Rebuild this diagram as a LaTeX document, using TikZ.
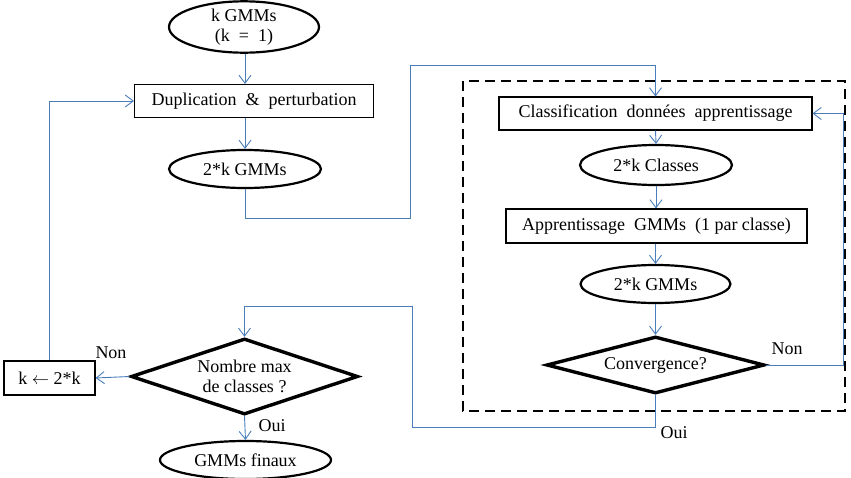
\documentclass[tikz,border=0pt]{standalone}
\usepackage{fontspec}
\setmainfont{Liberation Serif}
\usetikzlibrary{shapes.geometric,arrows.meta,calc}
\definecolor{lnblue}{HTML}{4A7EBB}
\begin{document}
\begin{tikzpicture}[x=1pt,y=-1pt,
  every node/.style={font=\fontsize{18}{20}\selectfont, inner sep=0pt},
  ell/.style={ellipse, draw, line width=2.2pt, align=center},
  box/.style={rectangle, draw, line width=1.1pt},
  dia/.style={diamond, draw, line width=3.4pt},
  txt/.style={align=center},
  arr/.style={draw=lnblue, line width=0.9pt, -{Straight Barb[length=8pt,width=12pt,line width=0.9pt]}},
  lbl/.style={font=\fontsize{18}{20}\selectfont}
]
\useasboundingbox (0,0) rectangle (851,477);
% dashed frame
\draw[line width=2.6pt, dash pattern=on 10pt off 6pt] (463,81) rectangle (845,411);
% nodes
\node[ell, minimum width=150pt, minimum height=45pt] (n1) at (244,27) {k GMMs\\(k \ = \ 1)};
\node[box, minimum width=239pt, minimum height=33pt] (dup) at (254,101) {Duplication \ \& \ perturbation};
\node[ell, minimum width=152pt, minimum height=38pt] (g2) at (245,169) {2*k GMMs};
\node[box, minimum width=313pt, minimum height=33pt] (cls) at (655.5,113.5) {Classification \ données \ apprentissage};
\node[ell, minimum width=152pt, minimum height=40pt] (cl2) at (656,165) {2*k Classes};
\node[box, minimum width=301pt, minimum height=34pt] (app) at (656.5,226) {Apprentissage \ GMMs \ (1 par classe)};
\node[ell, minimum width=150pt, minimum height=38pt] (g3) at (655.5,284) {2*k GMMs};
\node[dia, minimum width=218pt, minimum height=57pt] (conv) at (655.5,365) {};
\node[txt] (convt) at (conv.center) {Convergence?};
\node[dia, minimum width=227pt, minimum height=76pt] (nmax) at (244.5,376.5) {};
\node[txt] (nmaxt) at (nmax.center) {Nombre max\\de classes ?};
\node[box, minimum width=91pt, minimum height=34pt] (kbox) at (49.5,378) {k $\leftarrow$ 2*k};
\node[ell, minimum width=171pt, minimum height=38pt] (fin) at (245.5,460) {GMMs finaux};
% helper coordinates
\coordinate (c1) at (410,218);
\coordinate (c2) at (410,65);
\coordinate (c3) at (843,366);
\coordinate (c4) at (412,427);
\coordinate (c5) at (412,306);
% connectors
\draw[arr] (n1.south -| g2.north) -- (dup.north -| g2.north);
\draw[arr] (dup.south -| g2.north) -- (g2.north);
\draw[arr] (g2.south) |- (c1) |- (c2) -| (cls.north);
\draw[arr] (cls.south) -- (cl2.north);
\draw[arr] (cl2.south) -- (app.north -| cl2.south);
\draw[arr] (app.south -| g3.north) -- (g3.north);
\draw[arr] (g3.south) -- (conv.north);
\draw[arr] (conv.east) -| (c3) |- (cls.east);
\draw[arr] (conv.south) |- (c4) |- (c5) -| (nmax.north);
\draw[arr] (nmax.west) -- (kbox.east);
\draw[arr] (kbox.north) |- (dup.west);
\draw[arr] (nmax.south) -- (fin.north);
% labels
\node[lbl] (lnon1) at (787,349) {Non};
\node[lbl] (loui1) at (674,433) {Oui};
\node[lbl] (lnon2) at (111,353) {Non};
\node[lbl] (loui2) at (272,426) {Oui};
\end{tikzpicture}
\end{document}
